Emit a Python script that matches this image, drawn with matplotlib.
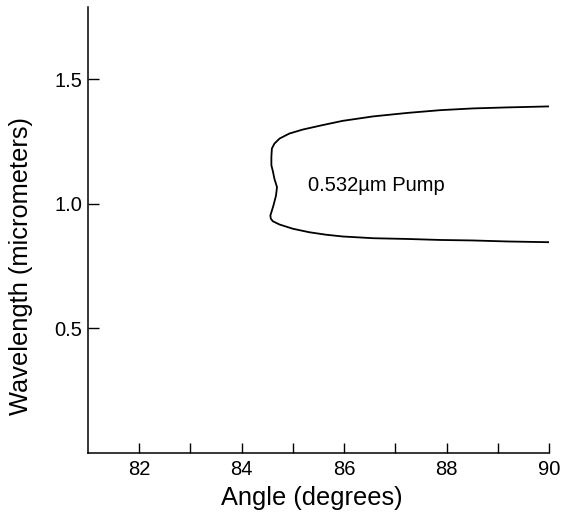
import matplotlib
matplotlib.use("Agg")
import matplotlib.pyplot as plt
from matplotlib.ticker import FixedLocator

plt.rcParams['font.family'] = ['Liberation Sans', 'DejaVu Sans']

# Phase-matching tuning curve (angle in degrees, wavelength in micrometers)
angle = [90.0, 89.18, 88.52, 87.88, 87.24, 86.57, 85.97, 85.58, 85.19, 84.93,
         84.74, 84.64, 84.59, 84.58, 84.58, 84.61, 84.64, 84.69, 84.67, 84.62,
         84.56, 84.57, 84.61, 84.74, 85.00, 85.32, 85.65, 85.97, 86.57, 87.24,
         87.88, 88.52, 89.18, 90.0]
wavelength = [1.391, 1.387, 1.383, 1.376, 1.365, 1.351, 1.333, 1.316, 1.298, 1.282,
              1.262, 1.242, 1.222, 1.189, 1.155, 1.130, 1.100, 1.067, 1.033, 0.993,
              0.953, 0.940, 0.930, 0.917, 0.900, 0.886, 0.876, 0.869, 0.862, 0.859,
              0.855, 0.853, 0.849, 0.846]

x_major = [82, 84, 86, 88, 90]
x_minor = [83, 85, 87, 89]
y_major = [0.5, 1.0, 1.5]
y_labels = ['0.5', '1.0', '1.5']
annotation = '0.532\u00b5m Pump'

fig = plt.figure(figsize=(5.61, 5.25), dpi=100)
ax = fig.add_axes([88/561, 1-453/525, (549-88)/561, (453-7)/525])

ax.plot(angle, wavelength, color='black', lw=1.3, solid_joinstyle='round')

ax.set_xlim(81, 90)
ax.set_ylim(0, 1.79)

for s in ['top', 'right']:
    ax.spines[s].set_visible(False)
for s in ['left', 'bottom']:
    ax.spines[s].set_linewidth(1.1)

ax.xaxis.set_major_locator(FixedLocator(x_major))
ax.xaxis.set_minor_locator(FixedLocator(x_minor))
ax.set_yticks(y_major)
ax.set_yticklabels(y_labels)

ax.tick_params(axis='x', which='both', direction='in', length=7, width=1.0, pad=5, labelsize=14.5)
ax.tick_params(axis='y', which='both', direction='in', length=8, width=1.0, pad=4, labelsize=14.5)

ax.text(85.29, 1.072, annotation, ha='left', va='center', fontsize=14.5)

fig.text(312/561, 1-498/525, 'Angle (degrees)', ha='center', va='center', fontsize=18.3)
fig.text(21/561, 1-266/525, 'Wavelength (micrometers)', rotation=90,
         ha='center', va='center', fontsize=18.3)

fig.savefig('out.png', dpi=100)
